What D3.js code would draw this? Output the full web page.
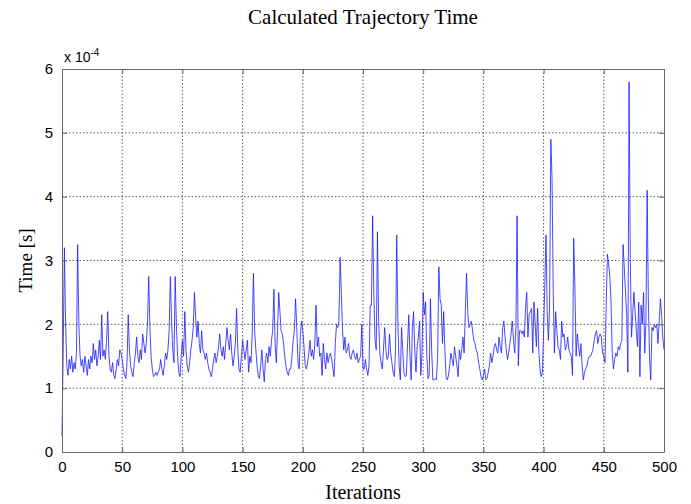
<!DOCTYPE html>
<html>
<head>
<meta charset="utf-8">
<script src="https://cdn.jsdelivr.net/npm/d3@7"></script>
<style>
body { margin: 0; background: #fff; }
.tick text { font-family: "Liberation Sans", Arial, sans-serif; font-size: 15px; fill: #000; }
</style>
</head>
<body>
<script>
// chart text
var chartTitle = "Calculated Trajectory Time";
var xLabel = "Iterations";
var yLabel = "Time [s]";
var xTicks = [0, 50, 100, 150, 200, 250, 300, 350, 400, 450, 500];
var yTicks = [0, 1, 2, 3, 4, 5, 6];

// time per iteration, in units of 1e-4 s (iteration 0..500)
var timeVals = [
  0.25, 1.6, 3.2, 2.0, 1.35, 1.2, 1.45, 1.3, 1.5, 1.25,
  1.4, 1.3, 1.55, 3.25, 2.0, 1.5, 1.35, 1.45, 1.25, 1.5,
  1.35, 1.2, 1.45, 1.3, 1.5, 1.4, 1.7, 1.45, 1.6, 1.35,
  1.5, 1.75, 1.45, 2.15, 1.5, 1.6, 1.45, 1.75, 2.2, 1.5,
  1.3, 1.25, 1.4, 1.2, 1.15, 1.3, 1.45, 1.35, 1.6, 1.55,
  1.45, 1.3, 1.2, 1.15, 1.4, 2.15, 1.6, 1.35, 1.25, 1.18,
  1.4, 1.55, 1.8, 1.5, 1.4, 1.6, 1.45, 1.85, 1.7, 1.55,
  1.7, 2.0, 2.75, 1.95, 1.5, 1.3, 1.18, 1.2, 1.25, 1.2,
  1.25, 1.3, 1.45, 1.3, 1.2, 1.35, 1.55, 1.45, 1.6, 1.9,
  2.75, 2.05, 1.6, 1.4, 2.75, 2.0, 1.5, 1.25, 1.18, 1.5,
  1.75, 1.5, 2.2, 1.6, 1.35, 1.25, 1.4, 1.6, 1.75, 1.95,
  2.5, 2.1, 1.8, 2.05, 1.7, 1.55, 1.9, 1.6, 1.55, 1.45,
  1.55, 1.4, 1.3, 1.25, 1.18, 1.3, 1.45, 1.55, 1.4, 1.5,
  1.65, 1.85, 1.6, 1.5, 1.65, 1.45, 1.7, 1.95, 1.75, 1.6,
  1.85, 1.55, 1.35, 1.5, 1.7, 2.25, 1.6, 1.3, 1.25, 1.5,
  1.75, 1.6, 1.45, 1.6, 1.75, 1.25, 1.5, 1.4, 1.85, 2.8,
  1.9, 1.6, 1.35, 1.2, 1.15, 1.35, 1.6, 1.3, 1.1, 1.45,
  1.55, 1.4, 1.65, 1.5, 1.75, 1.9, 2.55, 1.7, 1.4, 1.9,
  2.5, 2.2, 1.9, 1.85, 1.7, 1.5, 1.35, 1.25, 1.2, 1.3,
  1.3, 1.5, 1.75, 1.9, 2.4, 1.95, 1.4, 1.3, 1.85, 2.05,
  1.9, 1.65, 1.35, 1.3, 1.4, 1.55, 1.75, 1.5, 1.6, 1.45,
  1.7, 2.3, 1.65, 1.8, 1.5, 1.55, 1.2, 1.7, 1.45, 1.3,
  1.55, 1.4, 1.5, 1.55, 1.45, 1.3, 1.18, 1.7, 2.0, 1.95,
  2.05, 3.05, 2.5, 1.9, 1.6, 1.8, 1.55, 1.6, 1.7, 1.5,
  1.45, 1.55, 1.6, 1.5, 1.45, 1.55, 1.4, 1.45, 1.5, 2.0,
  1.3, 1.3, 1.45, 1.3, 1.2, 1.35, 2.3, 2.3, 3.7, 2.5,
  1.75, 1.6, 3.45, 2.05, 1.55, 1.4, 1.3, 1.6, 1.95, 1.6,
  1.45, 1.5, 1.85, 1.55, 1.4, 1.25, 1.18, 1.6, 3.4, 2.0,
  1.35, 1.13, 1.95, 1.6, 1.25, 1.18, 1.2, 1.7, 2.15, 1.5,
  1.13, 1.95, 2.2, 1.6, 1.25, 1.65, 1.8, 2.05, 1.2, 1.55,
  2.5, 2.15, 2.35, 1.5, 1.15, 1.2, 2.4, 1.6, 1.13, 1.13,
  1.15, 1.13, 1.5, 2.9, 2.4, 2.3, 1.7, 2.2, 1.6, 1.18,
  1.13, 1.2, 1.35, 1.55, 1.45, 1.35, 1.65, 1.5, 1.35, 1.18,
  1.6, 1.45, 1.6, 1.8, 1.55, 2.2, 2.8, 2.2, 1.95, 2.0,
  2.05, 1.9, 1.75, 1.7, 1.6, 1.55, 1.4, 1.3, 1.18, 1.13,
  1.2, 1.3, 1.13, 1.15, 1.25, 1.35, 1.55, 1.4, 1.5, 1.65,
  1.7, 1.6, 1.55, 1.8, 1.65, 1.55, 1.95, 2.05, 1.8, 1.6,
  1.45, 1.55, 1.7, 1.85, 2.05, 1.75, 1.55, 1.95, 3.7, 1.35,
  1.9, 1.9, 1.85, 1.9, 1.8, 2.25, 2.5, 1.8, 2.15, 2.2,
  2.25, 1.55, 2.35, 2.0, 1.65, 2.25, 1.6, 1.3, 1.18, 1.25,
  1.9, 2.6, 3.4, 2.2, 1.75, 2.3, 4.9, 4.3, 2.5, 1.55,
  2.2, 1.9, 1.65, 1.6, 1.45, 2.05, 1.8, 1.85, 1.6, 1.65,
  1.8, 1.6, 1.55, 1.5, 1.2, 3.35, 2.6, 1.5, 1.85, 1.65,
  1.5, 1.7, 1.35, 1.13, 1.25, 1.3, 1.35, 1.45, 1.5, 1.5,
  1.55, 1.6, 1.75, 1.85, 1.9, 1.7, 1.8, 1.85, 1.8, 1.55,
  1.5, 1.4, 2.3, 3.1, 2.95, 2.75, 2.35, 1.55, 1.3, 1.45,
  1.55, 1.5, 1.65, 1.6, 1.7, 1.75, 3.25, 2.9, 2.5, 2.15,
  1.25, 5.8, 3.0, 1.8, 2.15, 2.5, 2.2, 1.9, 1.65, 2.35,
  1.18, 2.3, 2.0, 2.5, 1.55, 2.05, 4.1, 2.4, 1.45, 1.13,
  1.95, 1.9, 2.0, 1.95, 2.0, 1.7, 2.05, 2.4, 2.15, 1.8,
  1.6
];

var width = 691, height = 504;
var margin = {left: 62, right: 27, top: 69, bottom: 52};
var plotW = width - margin.left - margin.right;
var plotH = height - margin.top - margin.bottom;

var svg = d3.select("body").append("svg")
  .attr("width", width)
  .attr("height", height);

var x = d3.scaleLinear().domain([0, 500]).range([0, plotW]);
var y = d3.scaleLinear().domain([0, 6]).range([plotH, 0]);

var g = svg.append("g")
  .attr("transform", "translate(" + margin.left + "," + margin.top + ")");

// dotted grid
g.append("g").selectAll("line")
  .data(xTicks.slice(1, -1))
  .join("line")
  .attr("x1", d => x(d)).attr("x2", d => x(d))
  .attr("y1", 0).attr("y2", plotH)
  .attr("stroke", "#333").attr("stroke-width", 0.8)
  .attr("stroke-dasharray", "1.5,2");
g.append("g").selectAll("line")
  .data(yTicks.slice(1, -1))
  .join("line")
  .attr("x1", 0).attr("x2", plotW)
  .attr("y1", d => y(d)).attr("y2", d => y(d))
  .attr("stroke", "#333").attr("stroke-width", 0.8)
  .attr("stroke-dasharray", "1.5,2");

// data line
var line = d3.line()
  .x((d, i) => x(i))
  .y(d => y(d));
g.append("path")
  .datum(timeVals)
  .attr("fill", "none")
  .attr("stroke", "#1a1aff")
  .attr("stroke-width", 0.8)
  .attr("d", line);

// axes (matlab style: inward ticks on all four sides)
var axColor = "#666";
var fmt = d3.format("d");
var xAxis = g.append("g")
  .attr("transform", "translate(0," + plotH + ")")
  .call(d3.axisBottom(x).tickValues(xTicks).tickFormat(fmt).tickSizeInner(-5).tickSizeOuter(0).tickPadding(9));
var xTop = g.append("g")
  .call(d3.axisTop(x).tickValues(xTicks).tickSizeInner(-5).tickSizeOuter(0).tickFormat(""));
var yAxis = g.append("g")
  .call(d3.axisLeft(y).tickValues(yTicks).tickFormat(fmt).tickSizeInner(-5).tickSizeOuter(0).tickPadding(9));
var yRight = g.append("g")
  .attr("transform", "translate(" + plotW + ",0)")
  .call(d3.axisRight(y).tickValues(yTicks).tickSizeInner(-5).tickSizeOuter(0).tickFormat(""));
[xAxis, xTop, yAxis, yRight].forEach(function (a) {
  a.select(".domain").attr("stroke", axColor);
  a.selectAll(".tick line").attr("stroke", axColor);
});

// exponent label
svg.append("text")
  .attr("x", margin.left + 2)
  .attr("y", margin.top - 7)
  .attr("font-family", "Liberation Sans, Arial, sans-serif")
  .attr("font-size", 14)
  .html('x 10<tspan dy="-6" font-size="10">-4</tspan>');

// title and axis labels
svg.append("text")
  .attr("x", margin.left + plotW / 2)
  .attr("y", 24)
  .attr("text-anchor", "middle")
  .attr("font-family", "Liberation Serif, Times New Roman, serif")
  .attr("font-size", 21)
  .text(chartTitle);
svg.append("text")
  .attr("x", margin.left + plotW / 2)
  .attr("y", 499)
  .attr("text-anchor", "middle")
  .attr("font-family", "Liberation Serif, Times New Roman, serif")
  .attr("font-size", 20)
  .text(xLabel);
svg.append("text")
  .attr("transform", "translate(32," + (margin.top + plotH / 2) + ") rotate(-90)")
  .attr("text-anchor", "middle")
  .attr("font-family", "Liberation Serif, Times New Roman, serif")
  .attr("font-size", 19)
  .text(yLabel);
</script>
</body>
</html>
